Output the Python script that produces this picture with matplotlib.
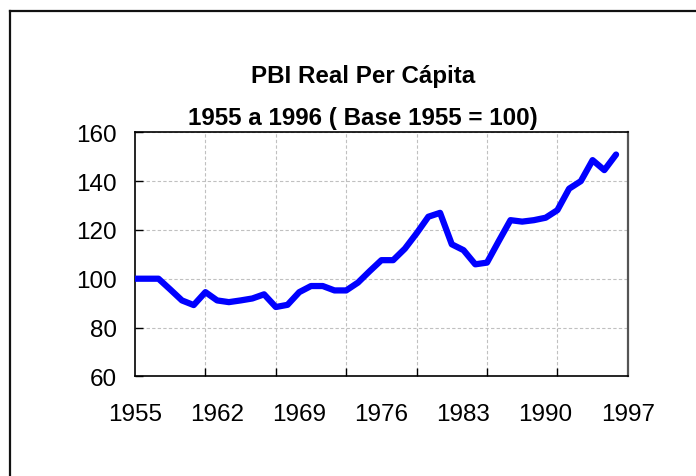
import numpy as np
import matplotlib
matplotlib.use('Agg')
import matplotlib.pyplot as plt
from matplotlib.lines import Line2D

plt.rcParams['font.family'] = ['Liberation Sans', 'DejaVu Sans']

# PBI real per capita, 1955-1996 (base 1955 = 100)
years = list(range(1955, 1997))
pbi = [100, 100, 100, 95.6, 91.1, 89.2, 94.5, 91.1, 90.4, 91.1,
       91.9, 93.6, 88.4, 89.3, 94.5, 97.0, 97.0, 95.2, 95.2, 98.4,
       103.1, 107.6, 107.6, 112.3, 118.6, 125.4, 127.0, 114.1, 111.7, 105.9,
       106.6, 115.4, 124.0, 123.4, 124.0, 125.0, 128.1, 136.9, 140.0, 148.6,
       144.5, 150.9]

# x axis labels as printed on the chart (spread evenly along the axis)
x_labels = ['1955', '1962', '1969', '1976', '1983', '1990', '1997']
y_ticks = [60, 80, 100, 120, 140, 160]

title_1 = 'PBI Real Per Cápita'
title_2 = '1955 a 1996 ( Base 1955 = 100)'

fig = plt.figure(figsize=(6.96, 4.77), dpi=100)
ax = fig.add_axes([0.194, 0.209, 0.708, 0.5115])

x = np.arange(len(pbi))
ax.plot(x, pbi, color='#0000ff', linewidth=4.5,
        solid_capstyle='round', solid_joinstyle='round', zorder=3)

n_cat = len(pbi) + 1  # axis spans one extra empty category
ax.set_xlim(0, n_cat - 1)
ax.set_ylim(60, 160)
# labels every 7 categories, tick marks / gridlines every 6
ax.set_xticks(np.linspace(0, n_cat - 1, len(x_labels)))
ax.set_xticklabels(x_labels)
ax.set_xticks(np.arange(0, n_cat, 6), minor=True)
ax.set_yticks(y_ticks)

ax.tick_params(axis='both', which='major', direction='in', length=6, width=1,
               labelsize=17.5, color='black')
ax.tick_params(axis='x', which='major', length=0, pad=19)
ax.tick_params(axis='x', which='minor', direction='in', length=6, width=1,
               color='black')
ax.tick_params(axis='y', pad=13)

ax.grid(True, axis='y', color='#c0c0c0', linestyle=(0, (3, 2)), linewidth=0.8)
ax.grid(True, axis='x', which='minor', color='#c0c0c0',
        linestyle=(0, (3, 2)), linewidth=0.8)
ax.set_axisbelow(True)
for side in ['left', 'bottom', 'top']:
    ax.spines[side].set_linewidth(1.2)
    ax.spines[side].set_color('black')
ax.spines['right'].set_linewidth(1.6)
ax.spines['right'].set_color('#555555')

# titles
fig.text(0.5216, 1 - 77 / 477, title_1, ha='center', va='center',
         fontsize=17.4, fontweight='bold')
fig.text(0.5216, 1 - 118 / 477, title_2, ha='center', va='center',
         fontsize=17.4, fontweight='bold')

# outer chart frame (left and top edges visible)
fig.add_artist(Line2D([9.5 / 696, 9.5 / 696], [0, 1 - 11.5 / 477],
                      transform=fig.transFigure, color='#111111', linewidth=1.6))
fig.add_artist(Line2D([9.5 / 696, 1], [1 - 11.5 / 477, 1 - 11.5 / 477],
                      transform=fig.transFigure, color='#111111', linewidth=1.6))

fig.savefig('out.png', dpi=100)
